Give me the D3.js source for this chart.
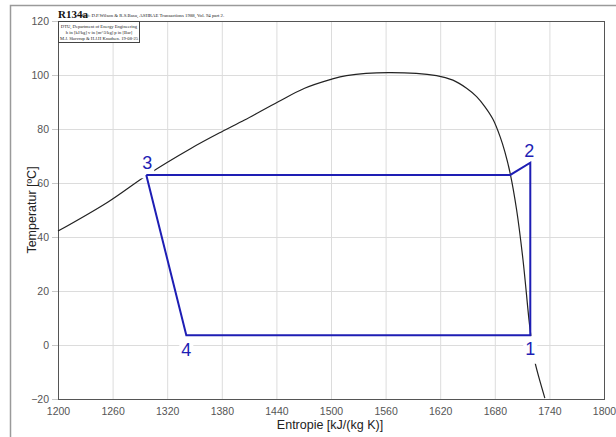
<!DOCTYPE html>
<html>
<head>
<meta charset="utf-8">
<script src="https://cdn.jsdelivr.net/npm/d3@7"></script>
<style>
  body { margin: 0; background: #fff; }
  svg { display: block; }
  .grid line { stroke: #dcdcdc; stroke-width: 1; }
  .grid path { display: none; }
  .axis path { display: none; }
  .axis line { stroke: #c8c8c8; }
  .axis text { fill: #555; font-family: Arial, "Liberation Sans", sans-serif; font-size: 10.5px; }
</style>
</head>
<body>
<div id="chart"></div>
<script>
// saturation curve (entropy kJ/(kg K), temperature C)
var satS = [1200, 1255, 1298, 1346, 1380, 1405, 1442, 1471, 1499, 1517, 1563, 1616, 1634, 1649, 1660, 1669, 1678, 1686, 1691, 1697, 1704, 1711, 1718, 1721, 1724, 1735]
var satT = [42.2, 53.0, 63.0, 72.8, 79.0, 83.3, 90.1, 95.1, 98.3, 99.8, 100.9, 99.8, 98.1, 95.1, 92.0, 88.3, 83.6, 77.0, 71.6, 63.4, 50.0, 31.5, 8.0, 0.0, -6.2, -19.7]

// cycle 3 -> (2') -> 2 -> 1 -> 4 -> 3
var cycleS = [1297, 1697, 1719, 1719, 1341, 1297]
var cycleT = [63.0, 63.0, 67.5, 3.6, 3.6, 63.0]

var pointNames = ["1", "2", "3", "4"]
var pointS = [1719, 1719, 1297, 1341]
var pointT = [3.6, 67.5, 63.0, 3.6]

var xTicks = [1200, 1260, 1320, 1380, 1440, 1500, 1560, 1620, 1680, 1740, 1800]
var yTicks = [-20, 0, 20, 40, 60, 80, 100, 120]

var width = 616, height = 437
var mLeft = 58, mRight = 604, mTop = 21, mBottom = 399

var svg = d3.select("#chart").append("svg")
    .attr("width", width)
    .attr("height", height)

// window frame
svg.append("path")
    .attr("d", "M10.5,437V5.5H616")
    .attr("fill", "none")
    .attr("stroke", "#9a9a9a")
    .attr("stroke-width", 1.5)

var x = d3.scaleLinear().domain([1200, 1800]).range([mLeft, mRight])
var y = d3.scaleLinear().domain([-20, 120]).range([mBottom, mTop])

svg.append("g")
    .attr("class", "grid")
    .attr("transform", "translate(0," + mBottom + ")")
    .call(d3.axisBottom(x).tickValues(xTicks).tickSize(-(mBottom - mTop)).tickFormat(""))

svg.append("g")
    .attr("class", "grid")
    .attr("transform", "translate(" + mLeft + ",0)")
    .call(d3.axisLeft(y).tickValues(yTicks).tickSize(-(mRight - mLeft)).tickFormat(""))

svg.append("rect")
    .attr("x", mLeft + 0.5)
    .attr("y", mTop + 0.5)
    .attr("width", mRight - mLeft)
    .attr("height", mBottom - mTop)
    .attr("fill", "none")
    .attr("stroke", "#555")
    .attr("stroke-width", 1)

svg.append("g")
    .attr("class", "axis")
    .attr("transform", "translate(0," + mBottom + ")")
    .call(d3.axisBottom(x).tickValues(xTicks).tickSize(0).tickPadding(9).tickFormat(d3.format("d")))

svg.append("g")
    .attr("class", "axis")
    .attr("transform", "translate(" + mLeft + ",0)")
    .call(d3.axisLeft(y).tickValues(yTicks).tickSize(6).tickPadding(3).tickFormat(d3.format("d")))

// axis titles
svg.append("text")
    .attr("x", 330)
    .attr("y", 429)
    .attr("text-anchor", "middle")
    .attr("font-family", "Arial, 'Liberation Sans', sans-serif")
    .attr("font-size", 12.5)
    .attr("fill", "#222")
    .text("Entropie [kJ/(kg K)]")

svg.append("text")
    .attr("transform", "translate(35.5," + ((mTop + mBottom) / 2) + ") rotate(-90)")
    .attr("text-anchor", "middle")
    .attr("font-family", "Arial, 'Liberation Sans', sans-serif")
    .attr("font-size", 12.5)
    .attr("fill", "#222")
    .text("Temperatur [ºC]")

// title and info box
svg.append("text")
    .attr("x", 58)
    .attr("y", 18)
    .attr("font-family", "'Liberation Serif', 'DejaVu Serif', serif")
    .attr("font-weight", "bold")
    .attr("font-size", 11)
    .attr("fill", "#111")
    .text("R134a")

svg.append("text")
    .attr("x", 82)
    .attr("y", 17)
    .attr("font-family", "'Liberation Serif', serif")
    .attr("font-size", 4.8)
    .attr("fill", "#222")
    .text("Ref: D.P.Wilson & R.S.Basu, ASHRAE Transactions 1988, Vol. 94 part 2.")

svg.append("rect")
    .attr("x", 58.5)
    .attr("y", 21.5)
    .attr("width", 81)
    .attr("height", 21)
    .attr("fill", "#fff")
    .attr("stroke", "#444")
    .attr("stroke-width", 1)

var boxLines = ["DTU, Department of Energy Engineering", "h in [kJ/kg]  v in [m^3/kg]  p in [Bar]", "M.J. Skovrup & H.J.H Knudsen. 19-08-25"]
svg.append("g").selectAll("text")
    .data(boxLines)
    .join("text")
    .attr("x", 99)
    .attr("y", function(d, i) { return 28 + i * 6 })
    .attr("text-anchor", "middle")
    .attr("font-family", "'Liberation Serif', serif")
    .attr("font-size", 4.6)
    .attr("fill", "#222")
    .text(function(d) { return d })

// saturation curve
var sat = satS.map(function(s, i) { return [s, satT[i]] })
svg.append("path")
    .datum(sat)
    .attr("fill", "none")
    .attr("stroke", "#222")
    .attr("stroke-width", 1.2)
    .attr("d", d3.line().curve(d3.curveCatmullRom.alpha(0.5)).x(function(d) { return x(d[0]) }).y(function(d) { return y(d[1]) }))

// white label backgrounds break the curve, drawn under the cycle
var labelBg = svg.append("g")

// cycle
var cyc = cycleS.map(function(s, i) { return [s, cycleT[i]] })
svg.append("path")
    .datum(cyc)
    .attr("fill", "none")
    .attr("stroke", "#1e1eb4")
    .attr("stroke-width", 2)
    .attr("stroke-linejoin", "miter")
    .attr("d", d3.line().x(function(d) { return x(d[0]) }).y(function(d) { return y(d[1]) }))

var labelDy = [19.5, -6, -5.6, 20.5]
var labelDx = [0, -1, 1, 0]
var labels = svg.append("g").selectAll("text")
    .data(pointNames)
    .join("text")
    .attr("x", function(d, i) { return x(pointS[i]) + labelDx[i] })
    .attr("y", function(d, i) { return y(pointT[i]) + labelDy[i] })
    .attr("text-anchor", "middle")
    .attr("font-family", "Arial, 'Liberation Sans', sans-serif")
    .attr("font-size", 18)
    .attr("fill", "#1e1eb4")
    .text(function(d) { return d })

labels.each(function() {
    var b = this.getBBox()
    labelBg.append("rect")
        .attr("x", b.x - 2)
        .attr("y", b.y - 3)
        .attr("width", b.width + 4)
        .attr("height", b.height + 8)
        .attr("fill", "#fff")
})
</script>
</body>
</html>
